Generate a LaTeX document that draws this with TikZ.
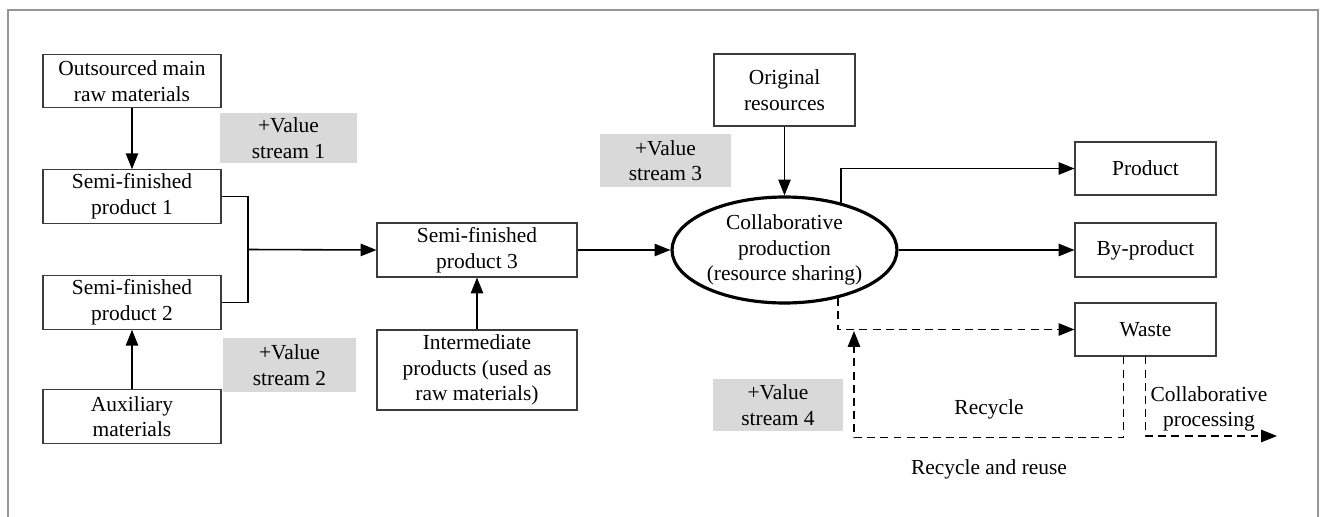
\documentclass[tikz,border=0pt]{standalone}
\usepackage{fontspec}
\setmainfont{Liberation Serif}
\usetikzlibrary{shapes.geometric,arrows.meta}
\definecolor{vsgray}{RGB}{217,217,217}
\definecolor{framegray}{RGB}{150,150,150}
\definecolor{boxline}{RGB}{60,60,60}

\begin{document}
\begin{tikzpicture}[x=0.02cm,y=-0.02cm,
    font=\fontsize{12.2}{14.6}\selectfont,
    blk/.style={draw=boxline, line width=0.6pt, align=center, inner sep=0pt, minimum width=3.56cm, minimum height=1.07cm},
    vs/.style={fill=vsgray, align=center, inner sep=0pt, minimum width=2.7cm, minimum height=1.05cm},
    arr/.style={-{Triangle[length=9pt,width=7pt]}, line width=0.9pt},
    dsh/.style={dash pattern=on 4.5pt off 3pt},
    lbl/.style={align=center, inner sep=0pt}]
    \useasboundingbox (0,0) rectangle (1323,517);

    % Outer frame
    \draw[framegray, line width=1.2pt] (8,540) -- (8,10) -- (1318,10) -- (1318,540);

    % Left column
    \node[blk] (out) at (132,81) {Outsourced main\\raw materials};
    \node[blk] (s1) at (132,196.5) {Semi-finished\\product 1};
    \node[blk] (s2) at (132,302.5) {Semi-finished\\product 2};
    \node[blk] (aux) at (132,416.5) {Auxiliary\\materials};
    \node[vs, minimum width=2.74cm, minimum height=1.0cm] (vs1) at (288.5,138) {+Value\\stream 1};
    \node[vs, minimum width=2.66cm, minimum height=1.08cm] (vs2) at (289.5,365) {+Value\\stream 2};

    % Middle column
    \node[blk, minimum width=4cm, minimum height=1.08cm] (s3) at (477,250) {Semi-finished\\product 3};
    \node[blk, minimum width=4cm, minimum height=1.6cm] (inter) at (477,370) {Intermediate\\products (used as\\raw materials)};

    % Collaborative production
    \node[ellipse, draw, line width=1.8pt, align=center, inner sep=0pt, minimum width=4.5cm, minimum height=2.12cm] (cp) at (784.5,250) {Collaborative\\production\\(resource sharing)};
    \node[blk, minimum width=2.82cm, minimum height=1.44cm] (orig) at (784.5,90) {Original\\resources};
    \node[vs, minimum width=2.62cm, minimum height=1.06cm] (vs3) at (665.5,160.5) {+Value\\stream 3};
    \node[vs, minimum width=2.6cm, minimum height=1.04cm] (vs4) at (778,405) {+Value\\stream 4};

    % Outputs
    \node[blk, minimum width=2.82cm, minimum height=1.06cm] (prod) at (1145.5,168.5) {Product};
    \node[blk, minimum width=2.82cm, minimum height=1.08cm] (byp) at (1145.5,250) {By-product};
    \node[blk, minimum width=2.82cm, minimum height=1.06cm] (waste) at (1145.5,329.5) {Waste};

    % Labels
    \node[lbl] (rcy) at (989,409) {Recycle};
    \node[lbl] (cproc) at (1209,409) {Collaborative\\processing};
    \node[lbl] (reuse) at (989,469) {Recycle and reuse};

    % Connectors
    \coordinate (jn) at (248,249.5);
    \draw[line width=0.9pt] (s1.east) -| (jn) |- (s2.east);
    \draw[arr] (jn) -- (s3.west);
    \draw[arr] (out.south) -- (s1.north);
    \draw[arr] (aux.north) -- (s2.south);
    \draw[arr] (inter.north) -- (s3.south);
    \draw[arr] (s3.east) -- (cp.west);
    \draw[arr] (orig.south) -- (cp.north);
    \draw[arr] (cp.40) |- (prod.west);
    \draw[arr] (cp.east) -- (byp.west);
    \draw[arr, dsh] (cp.-42) |- (waste.west);

    % Recycling loops
    \coordinate (rin) at (854,331);
    \coordinate (cpend) at (1277,436);
    \draw[arr, dsh] ([xshift=-0.44cm]waste.south) -- ++(0,81) -| (rin);
    \draw[arr, dsh] (waste.south) |- (cpend);
\end{tikzpicture}
\end{document}
